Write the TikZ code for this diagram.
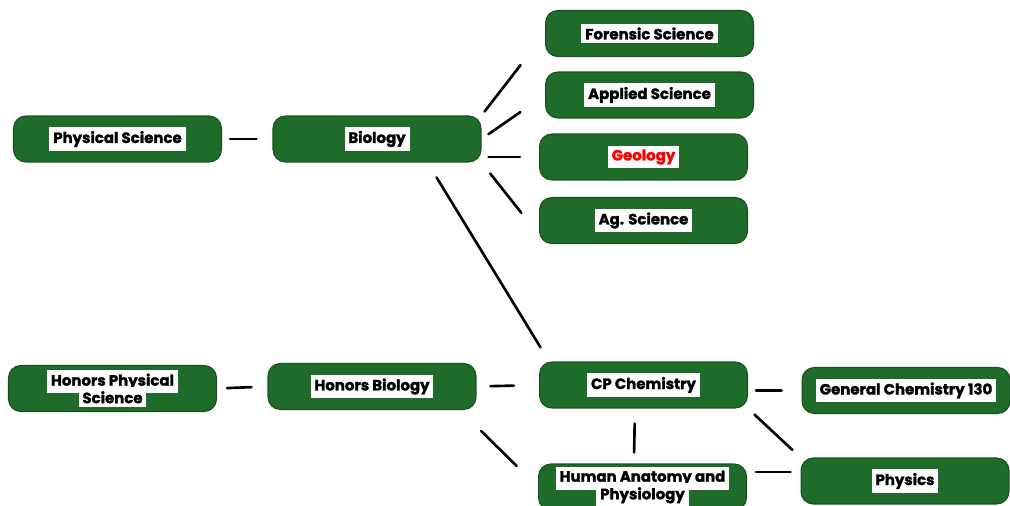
\documentclass[tikz,border=0pt]{standalone}
\usepackage{fontspec}
\setmainfont{Poppins}[BoldFeatures={FakeBold=1.6}]
\usepackage{tikz}
\usetikzlibrary{positioning,calc}

\definecolor{boxgreen}{RGB}{31,108,42}
\definecolor{boxedge}{RGB}{22,80,30}
\newcommand{\tagbox}[1]{{\setlength{\fboxsep}{2.2pt}\colorbox{white}{#1}}}
\newcommand{\tagfont}{\fontsize{8.5}{10}\selectfont\bfseries\lineskiplimit=-\maxdimen}

\begin{document}
\begin{tikzpicture}[x=0.02cm,y=-0.02cm,
    course/.style={draw=boxedge,fill=boxgreen,line width=0.6pt,rounded corners=7pt,
        minimum width=4.16cm,minimum height=0.92cm,align=center,font=\tagfont,inner sep=0pt},
    link/.style={line width=1.5pt,line cap=round}]
    \clip (0,0) rectangle (1010,506);
    \fill[white] (0,0) rectangle (1010,506);

    % Regular track
    \node[course] (phys) at (117.5,139) {\tagbox{Physical Science}};
    \node[course] (bio) at (377,139) {\tagbox{Biology}};

    % Electives after biology
    \node[course] (foren) at (649.5,33.5) {\tagbox{Forensic Science}};
    \node[course] (appl) at (649.5,95) {\tagbox{Applied Science}};
    \node[course] (geol) at (643.5,157) {\tagbox{\textcolor{red}{Geology}}};
    \node[course] (ag) at (643.5,220.5) {\tagbox{Ag. Science}};

    % Honors track
    \node[course] (hphys) at (112.5,388.5) {\tagbox{Honors Physical}\\\tagbox{Science}};
    \node[course] (hbio) at (372,386.5) {\tagbox{Honors Biology}};
    \node[course] (cp) at (643.5,385) {\tagbox{CP Chemistry}};
    \node[course] (genchem) at (906,390.5) {\tagbox{General Chemistry 130}};
    \node[course] (human) at (642.5,487) {\tagbox{Human Anatomy and}\\\tagbox{Physiology}};
    \node[course] (physics) at (905,481) {\tagbox{Physics}};

    % Links
    \draw[link,shorten <=0.16cm,shorten >=0.32cm] (phys.east) -- (bio.west);
    \draw[link,shorten <=0.1cm,shorten >=0.8cm] (bio.north east) -- (foren.west);
    \draw[link,shorten <=0.17cm,shorten >=0.6cm] (bio.east) -- (appl.west);
    \draw[link,shorten <=0.14cm,shorten >=0.38cm] (bio.east |- geol.west) -- (geol.west);
    \draw[link,shorten <=0.28cm,shorten >=0.57cm] (bio.south east) -- (ag.188);
    \draw[link,shorten <=0.35cm,shorten >=0.33cm] (bio.-25) -- (cp.166);

    \draw[link,shorten <=0.2cm,shorten >=0.32cm] (hphys.east) -- (hbio.west);
    \draw[link,shorten <=0.28cm,shorten >=0.5cm] (hbio.east) -- (cp.west);
    \draw[link,shorten <=0.6cm,shorten >=0.6cm] (hbio.-15) -- (human.west);
    \draw[link,shorten <=0.16cm,shorten >=0.4cm] (cp.east |- genchem.west) -- (genchem.west);
    \draw[link,shorten <=0.3cm,shorten >=0.22cm] (cp.250) -- (human.110);
    \draw[link,shorten <=0.18cm,shorten >=0.22cm] (cp.south east) -- (physics.north west);
    \draw[link,shorten <=0.18cm,shorten >=0.2cm] (human.east |- physics.175) -- (physics.175);
\end{tikzpicture}
\end{document}
